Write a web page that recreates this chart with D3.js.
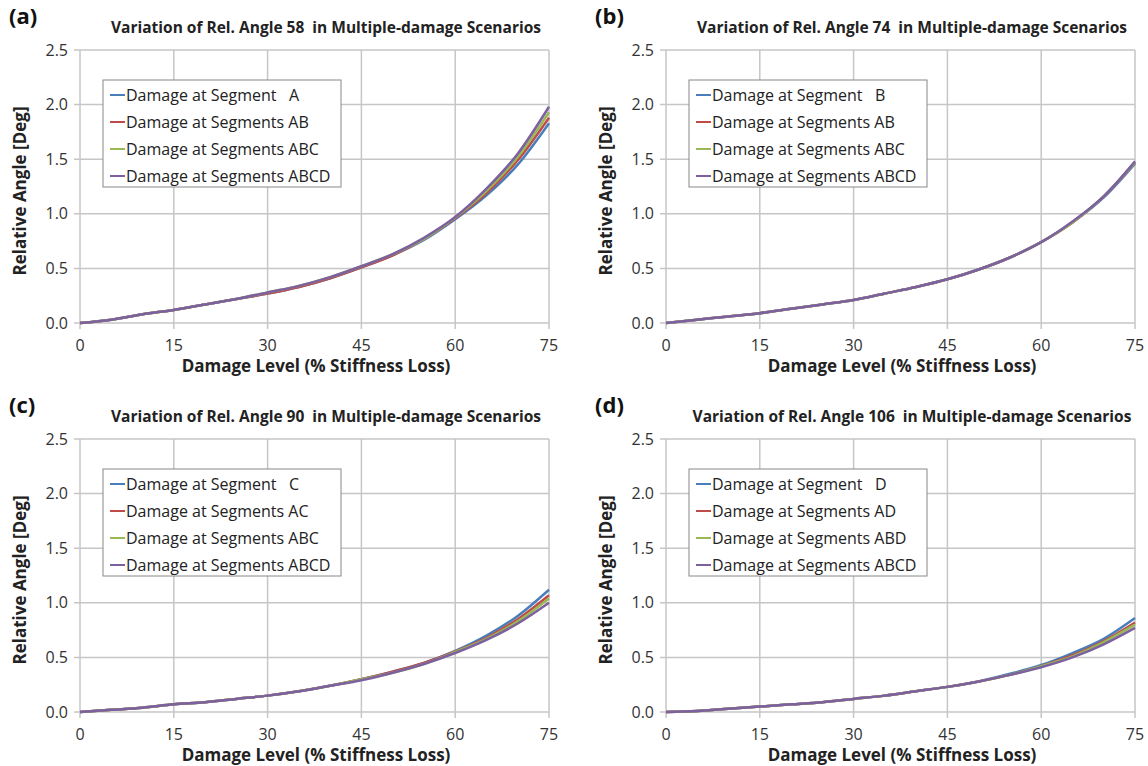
<!DOCTYPE html>
<html>
<head>
<meta charset="utf-8">
<script src="https://cdn.jsdelivr.net/npm/d3@7"></script>
<style>
  body { margin: 0; background: #fff; }
  svg { display: block; }
  text { font-family: "Open Sans", "DejaVu Sans", sans-serif; white-space: pre; }
</style>
</head>
<body>
<svg id="chart" width="1148" height="766"></svg>
<script>
// damage level (% stiffness loss)
var levels = [0, 5, 10, 15, 20, 25, 30, 35, 40, 45, 50, 55, 60, 65, 70, 75];
var xTicks = [0, 15, 30, 45, 60, 75];
var yTicks = [0, 0.5, 1.0, 1.5, 2.0, 2.5];
var colors = ['#4a7ebb', '#be4b48', '#98b954', '#7d60a0'];

// (a) rel. angle 58
var a_A    = [0, 0.03, 0.08, 0.12, 0.17, 0.22, 0.27, 0.33, 0.41, 0.51, 0.62, 0.76, 0.95, 1.17, 1.45, 1.83];
var a_AB   = [0, 0.03, 0.08, 0.12, 0.17, 0.22, 0.27, 0.33, 0.41, 0.51, 0.62, 0.77, 0.96, 1.19, 1.49, 1.88];
var a_ABC  = [0, 0.03, 0.08, 0.12, 0.17, 0.22, 0.28, 0.34, 0.42, 0.52, 0.63, 0.77, 0.965, 1.21, 1.52, 1.93];
var a_ABCD = [0, 0.03, 0.08, 0.12, 0.17, 0.22, 0.28, 0.34, 0.42, 0.52, 0.63, 0.78, 0.97, 1.23, 1.55, 1.98];
// (b) rel. angle 74
var b_B    = [0, 0.03, 0.06, 0.09, 0.13, 0.17, 0.21, 0.27, 0.33, 0.40, 0.49, 0.60, 0.74, 0.92, 1.15, 1.46];
var b_AB   = [0, 0.03, 0.06, 0.09, 0.13, 0.17, 0.21, 0.27, 0.33, 0.40, 0.49, 0.60, 0.74, 0.92, 1.16, 1.47];
var b_ABC  = [0, 0.03, 0.06, 0.09, 0.13, 0.17, 0.21, 0.27, 0.33, 0.40, 0.49, 0.60, 0.74, 0.92, 1.16, 1.47];
var b_ABCD = [0, 0.03, 0.06, 0.09, 0.13, 0.17, 0.21, 0.27, 0.33, 0.40, 0.49, 0.60, 0.74, 0.93, 1.16, 1.48];
// (c) rel. angle 90
var c_C    = [0, 0.02, 0.04, 0.07, 0.09, 0.12, 0.15, 0.19, 0.24, 0.30, 0.37, 0.45, 0.56, 0.70, 0.88, 1.12];
var c_AC   = [0, 0.02, 0.04, 0.07, 0.09, 0.12, 0.15, 0.19, 0.24, 0.30, 0.37, 0.45, 0.555, 0.68, 0.85, 1.07];
var c_ABC  = [0, 0.02, 0.04, 0.07, 0.09, 0.12, 0.15, 0.19, 0.24, 0.30, 0.36, 0.44, 0.55, 0.67, 0.83, 1.04];
var c_ABCD = [0, 0.02, 0.04, 0.07, 0.09, 0.12, 0.15, 0.19, 0.24, 0.29, 0.36, 0.44, 0.54, 0.66, 0.81, 1.00];
// (d) rel. angle 106
var d_D    = [0, 0.01, 0.03, 0.05, 0.07, 0.09, 0.12, 0.15, 0.19, 0.23, 0.28, 0.35, 0.43, 0.54, 0.67, 0.86];
var d_AD   = [0, 0.01, 0.03, 0.05, 0.07, 0.09, 0.12, 0.15, 0.19, 0.23, 0.28, 0.34, 0.42, 0.52, 0.65, 0.82];
var d_ABD  = [0, 0.01, 0.03, 0.05, 0.07, 0.09, 0.12, 0.15, 0.19, 0.23, 0.28, 0.34, 0.42, 0.51, 0.64, 0.80];
var d_ABCD = [0, 0.01, 0.03, 0.05, 0.07, 0.09, 0.12, 0.15, 0.19, 0.23, 0.28, 0.34, 0.41, 0.50, 0.62, 0.77];

var panels = [
  { tag: '(a)', angle: 58,  ox: 0,   oy: 0,
    names: ['Damage at Segment   A', 'Damage at Segments AB', 'Damage at Segments ABC', 'Damage at Segments ABCD'],
    series: [a_A, a_AB, a_ABC, a_ABCD] },
  { tag: '(b)', angle: 74,  ox: 586, oy: 0,
    names: ['Damage at Segment   B', 'Damage at Segments AB', 'Damage at Segments ABC', 'Damage at Segments ABCD'],
    series: [b_B, b_AB, b_ABC, b_ABCD] },
  { tag: '(c)', angle: 90,  ox: 0,   oy: 389,
    names: ['Damage at Segment   C', 'Damage at Segments AC', 'Damage at Segments ABC', 'Damage at Segments ABCD'],
    series: [c_C, c_AC, c_ABC, c_ABCD] },
  { tag: '(d)', angle: 106, ox: 586, oy: 389,
    names: ['Damage at Segment   D', 'Damage at Segments AD', 'Damage at Segments ABD', 'Damage at Segments ABCD'],
    series: [d_D, d_AD, d_ABD, d_ABCD] }
];

var svg = d3.select('#chart');

var x = d3.scaleLinear().domain([0, 75]).range([80, 549]);
var y = d3.scaleLinear().domain([0, 2.5]).range([323, 50]);

var line = d3.line()
    .x(function(d) { return x(d[0]); })
    .y(function(d) { return y(d[1]); })
    .curve(d3.curveMonotoneX);

panels.forEach(function(p) {
    var g = svg.append('g').attr('transform', 'translate(' + p.ox + ',' + p.oy + ')');

    // gridlines
    g.append('g').selectAll('line').data(yTicks).enter().append('line')
        .attr('x1', x(0) - 6).attr('x2', x(75))
        .attr('y1', function(d) { return y(d); }).attr('y2', function(d) { return y(d); })
        .attr('stroke', '#c6c6c6').attr('stroke-width', 1.5);
    g.append('g').selectAll('line').data(xTicks).enter().append('line')
        .attr('x1', function(d) { return x(d); }).attr('x2', function(d) { return x(d); })
        .attr('y1', y(2.5)).attr('y2', y(0) + 6)
        .attr('stroke', '#c6c6c6').attr('stroke-width', 1.5);

    // tick labels
    g.append('g').selectAll('text').data(yTicks).enter().append('text')
        .attr('x', x(0) - 12).attr('y', function(d) { return y(d); })
        .attr('dy', '0.35em').attr('text-anchor', 'end')
        .attr('font-size', 16).attr('fill', '#333')
        .text(function(d) { return d3.format('.1f')(d); });
    g.append('g').selectAll('text').data(xTicks).enter().append('text')
        .attr('x', function(d) { return x(d); }).attr('y', y(0) + 28)
        .attr('text-anchor', 'middle')
        .attr('font-size', 16).attr('fill', '#333')
        .text(function(d) { return d; });

    // axis titles
    g.append('text').attr('x', 316).attr('y', 372)
        .attr('text-anchor', 'middle').attr('font-size', 17).attr('font-weight', 'bold').attr('fill', '#222')
        .text('Damage Level (% Stiffness Loss)');
    g.append('text').attr('transform', 'translate(26,191) rotate(-90)')
        .attr('text-anchor', 'middle').attr('font-size', 17).attr('font-weight', 'bold').attr('fill', '#222')
        .text('Relative Angle [Deg]');

    // panel tag + title
    g.append('text').attr('x', 9).attr('y', 24)
        .attr('font-size', 22).attr('font-weight', 'bold').attr('fill', '#111')
        .text(p.tag);
    g.append('text').attr('x', 326).attr('y', 33)
        .attr('text-anchor', 'middle').attr('font-size', 15.5).attr('font-weight', 'bold').attr('fill', '#222')
        .text('Variation of Rel. Angle ' + p.angle + '  in Multiple-damage Scenarios');

    // series
    p.series.forEach(function(s, i) {
        g.append('path')
            .datum(levels.map(function(l, j) { return [l, s[j]]; }))
            .attr('d', line)
            .attr('fill', 'none')
            .attr('stroke', colors[i])
            .attr('stroke-width', 2.5);
    });

    // legend
    var lg = g.append('g').attr('transform', 'translate(103,80)');
    lg.append('rect').attr('width', 238).attr('height', 107)
        .attr('fill', '#fff').attr('stroke', '#888').attr('stroke-width', 1);
    p.names.forEach(function(n, i) {
        var yy = 15 + i * 27;
        lg.append('line').attr('x1', 7).attr('x2', 22).attr('y1', yy).attr('y2', yy)
            .attr('stroke', colors[i]).attr('stroke-width', 2);
        lg.append('text').attr('x', 23).attr('y', yy).attr('dy', '0.35em')
            .attr('font-size', 16).attr('fill', '#222')
            .text(n);
    });
});
</script>
</body>
</html>
